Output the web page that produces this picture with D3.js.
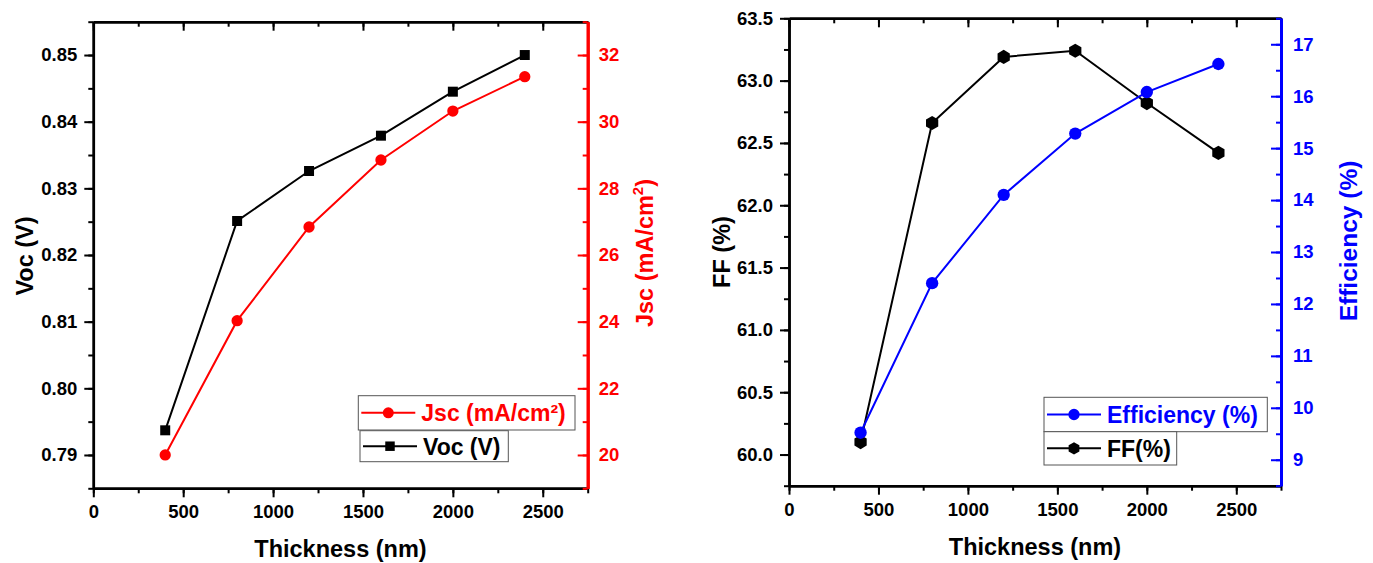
<!DOCTYPE html>
<html>
<head>
<meta charset="utf-8">
<script src="https://cdn.jsdelivr.net/npm/d3@7/dist/d3.min.js"></script>
<style>
  html, body { margin: 0; padding: 0; background: #fff; }
  svg { display: block; font-family: "Liberation Sans", Arial, Helvetica, sans-serif; font-weight: bold; }
</style>
</head>
<body>
<svg id="chart" width="1373" height="563"></svg>
<script>
// Absorber thickness sweep (nm)
const thickness = [400, 800, 1200, 1600, 2000, 2400];
// Left panel series
const voc = [0.7937, 0.8251, 0.8326, 0.8379, 0.8445, 0.8500];
const jsc = [20.00, 24.03, 26.84, 28.85, 30.32, 31.35];
// Right panel series
const ff = [60.10, 62.66, 63.19, 63.24, 62.82, 62.42];
const efficiency = [9.52, 12.40, 14.10, 15.28, 16.08, 16.62];

// Tick values
const thicknessTicks = [0, 500, 1000, 1500, 2000, 2500];
const thicknessMinor = d3.range(0, 2751, 250);
const vocTicks = [0.79, 0.80, 0.81, 0.82, 0.83, 0.84, 0.85];
const vocMinor = d3.range(0.785, 0.8551, 0.005);
const jscTicks = [20, 22, 24, 26, 28, 30, 32];
const jscMinor = d3.range(19, 33.01, 1);
const ffTicks = [60.0, 60.5, 61.0, 61.5, 62.0, 62.5, 63.0, 63.5];
const ffMinor = d3.range(59.75, 63.51, 0.25);
const effTicks = [9, 10, 11, 12, 13, 14, 15, 16, 17];
const effMinor = d3.range(8.5, 17.51, 0.5);

const svg = d3.select("#chart");

// Filled hexagon marker
const hexagon = {
  draw(ctx, size) {
    const r = Math.sqrt(size / (1.5 * Math.sqrt(3)));
    for (let i = 0; i < 6; i++) {
      const a = Math.PI / 2 + i * Math.PI / 3;
      const px = r * Math.cos(a), py = r * Math.sin(a);
      if (i === 0) ctx.moveTo(px, py); else ctx.lineTo(px, py);
    }
    ctx.closePath();
  }
};

function styleAxis(g, color, width) {
  g.select(".domain").attr("stroke", color).attr("stroke-width", width);
  g.selectAll(".tick line").attr("stroke", color).attr("stroke-width", 2);
  g.selectAll(".tick text").attr("fill", color).attr("font-size", 18.5).attr("font-family", null);
  g.attr("font-family", null).attr("font-size", null);
}

function drawPanel(p) {
  const g = svg.append("g");
  const x = d3.scaleLinear().domain([0, 2750]).range([p.left, p.right]);
  const yL = d3.scaleLinear().domain(p.leftDomain).range([p.bottom, p.top]);
  const yR = d3.scaleLinear().domain(p.rightDomain).range([p.bottom, p.top]);

  // bottom axis: minor then major, ticks outward
  g.append("g").attr("transform", `translate(0,${p.bottom})`)
    .call(d3.axisBottom(x).tickValues(thicknessMinor).tickSize(5).tickSizeOuter(0).tickFormat(""))
    .call(a => styleAxis(a, "#000", 2.5));
  g.append("g").attr("transform", `translate(0,${p.bottom})`)
    .call(d3.axisBottom(x).tickValues(thicknessTicks).tickSize(9).tickPadding(8).tickSizeOuter(0).tickFormat(d3.format("d")))
    .call(a => styleAxis(a, "#000", 2.5));

  // top frame: ticks pointing inward
  g.append("g").attr("transform", `translate(0,${p.top})`)
    .call(d3.axisBottom(x).tickValues(thicknessMinor).tickSize(5).tickSizeOuter(0).tickFormat(""))
    .call(a => styleAxis(a, "#000", 2.5));
  g.append("g").attr("transform", `translate(0,${p.top})`)
    .call(d3.axisBottom(x).tickValues(thicknessTicks).tickSize(9).tickSizeOuter(0).tickFormat(""))
    .call(a => styleAxis(a, "#000", 2.5));

  // left axis, ticks outward
  g.append("g").attr("transform", `translate(${p.left},0)`)
    .call(d3.axisLeft(yL).tickValues(p.leftMinor).tickSize(5).tickSizeOuter(0).tickFormat(""))
    .call(a => styleAxis(a, "#000", 2.5));
  g.append("g").attr("transform", `translate(${p.left},0)`)
    .call(d3.axisLeft(yL).tickValues(p.leftTicks).tickSize(9).tickPadding(7).tickSizeOuter(0).tickFormat(p.leftFormat))
    .call(a => styleAxis(a, "#000", 2.5));

  // right axis (coloured), ticks inward, labels outside
  g.append("g").attr("transform", `translate(${p.right},0)`)
    .call(d3.axisRight(yR).tickValues(p.rightMinor).tickSize(-5).tickSizeOuter(0).tickFormat(""))
    .call(a => styleAxis(a, p.rightColor, 3));
  g.append("g").attr("transform", `translate(${p.right},0)`)
    .call(d3.axisRight(yR).tickValues(p.rightTicks).tickSize(-10).tickPadding(p.rightPad).tickSizeOuter(0).tickFormat(p.rightFormat))
    .call(a => styleAxis(a, p.rightColor, 3));

  // series
  const series = [
    { values: p.leftValues, y: yL, color: "#000", symbol: p.leftSymbol, size: p.leftSize },
    { values: p.rightValues, y: yR, color: p.rightColor, symbol: d3.symbolCircle, size: p.rightSize }
  ];
  series.forEach(s => {
    const line = d3.line().x((d, i) => x(thickness[i])).y(d => s.y(d));
    g.append("path").datum(s.values)
      .attr("d", line).attr("fill", "none").attr("stroke", s.color).attr("stroke-width", 2);
    g.selectAll(null).data(s.values).join("path")
      .attr("transform", (d, i) => `translate(${x(thickness[i])},${s.y(d)})`)
      .attr("d", d3.symbol().type(s.symbol).size(s.size))
      .attr("fill", s.color);
  });

  // axis titles
  g.append("text").attr("text-anchor", "middle").attr("font-size", 23.5)
    .attr("transform", `translate(${(p.left + p.right) / 2},${p.xTitleY})`)
    .text("Thickness (nm)");
  g.append("text").attr("text-anchor", "middle").attr("font-size", 23.5)
    .attr("transform", `translate(${p.leftTitleX},${p.leftTitleY}) rotate(-90)`)
    .text(p.leftTitle);
  const rt = g.append("text").attr("text-anchor", "middle").attr("font-size", p.rightTitleSize).attr("fill", p.rightColor)
    .attr("transform", `translate(${p.rightTitleX},${p.rightTitleY}) rotate(-90)`);
  p.rightTitle.forEach(part => {
    const t = rt.append("tspan").text(part.text);
    if (part.sup) t.attr("font-size", 15).attr("dy", -10);
    if (part.after) t.attr("dy", 10);
  });

  // legend
  p.legend.forEach(l => {
    const lg = g.append("g");
    lg.append("rect").attr("x", l.x0).attr("y", l.y0)
      .attr("width", l.x1 - l.x0).attr("height", l.y1 - l.y0)
      .attr("fill", "#fff").attr("stroke", "#555").attr("stroke-width", 1);
    const cy = (l.y0 + l.y1) / 2;
    lg.append("line").attr("x1", l.x0 + 3).attr("x2", l.x0 + 57).attr("y1", cy).attr("y2", cy)
      .attr("stroke", l.color).attr("stroke-width", 2);
    lg.append("path").attr("transform", `translate(${l.x0 + 30},${cy})`)
      .attr("d", d3.symbol().type(l.symbol).size(l.size)).attr("fill", l.color);
    lg.append("text").attr("x", l.x0 + 63).attr("y", cy + 8.5).attr("font-size", 23)
      .attr("fill", l.color).text(l.label);
  });
}

drawPanel({
  left: 93.3, right: 587.7, top: 21.7, bottom: 488.3,
  leftDomain: [0.785, 0.855], leftTicks: vocTicks, leftMinor: vocMinor, leftFormat: d3.format(".2f"),
  rightDomain: [19, 33], rightTicks: jscTicks, rightMinor: jscMinor, rightFormat: d3.format("d"),
  rightColor: "#ff0000", rightPad: 11,
  leftValues: voc, leftSymbol: d3.symbolSquare, leftSize: 100,
  rightValues: jsc, rightSize: 100,
  leftTitle: "Voc (V)", leftTitleX: 33, leftTitleY: 256,
  rightTitle: [{ text: "Jsc (mA/cm" }, { text: "2", sup: true }, { text: ")", after: true }],
  rightTitleX: 653, rightTitleY: 253, rightTitleSize: 23.5,
  xTitleY: 557,
  legend: [
    { x0: 358.3, y0: 395.7, x1: 575, y1: 430, color: "#ff0000", symbol: d3.symbolCircle, size: 95, label: "Jsc (mA/cm²)" },
    { x0: 360, y0: 430.7, x1: 508.3, y1: 461.7, color: "#000", symbol: d3.symbolSquare, size: 90, label: "Voc (V)" }
  ]
});

drawPanel({
  left: 789, right: 1281, top: 18.3, bottom: 485.7,
  leftDomain: [59.75, 63.5], leftTicks: ffTicks, leftMinor: ffMinor, leftFormat: d3.format(".1f"),
  rightDomain: [8.5, 17.5], rightTicks: effTicks, rightMinor: effMinor, rightFormat: d3.format("d"),
  rightColor: "#0000ff", rightPad: 12,
  leftValues: ff, leftSymbol: hexagon, leftSize: 130,
  rightValues: efficiency, rightSize: 120,
  leftTitle: "FF (%)", leftTitleX: 730, leftTitleY: 252,
  rightTitle: [{ text: "Efficiency (%)" }],
  rightTitleX: 1357, rightTitleY: 241, rightTitleSize: 24.5,
  xTitleY: 555,
  legend: [
    { x0: 1044, y0: 397.3, x1: 1267.3, y1: 431.7, color: "#0000ff", symbol: d3.symbolCircle, size: 100, label: "Efficiency (%)" },
    { x0: 1044, y0: 431.7, x1: 1176.7, y1: 465, color: "#000", symbol: hexagon, size: 100, label: "FF(%)" }
  ]
});
</script>
</body>
</html>
